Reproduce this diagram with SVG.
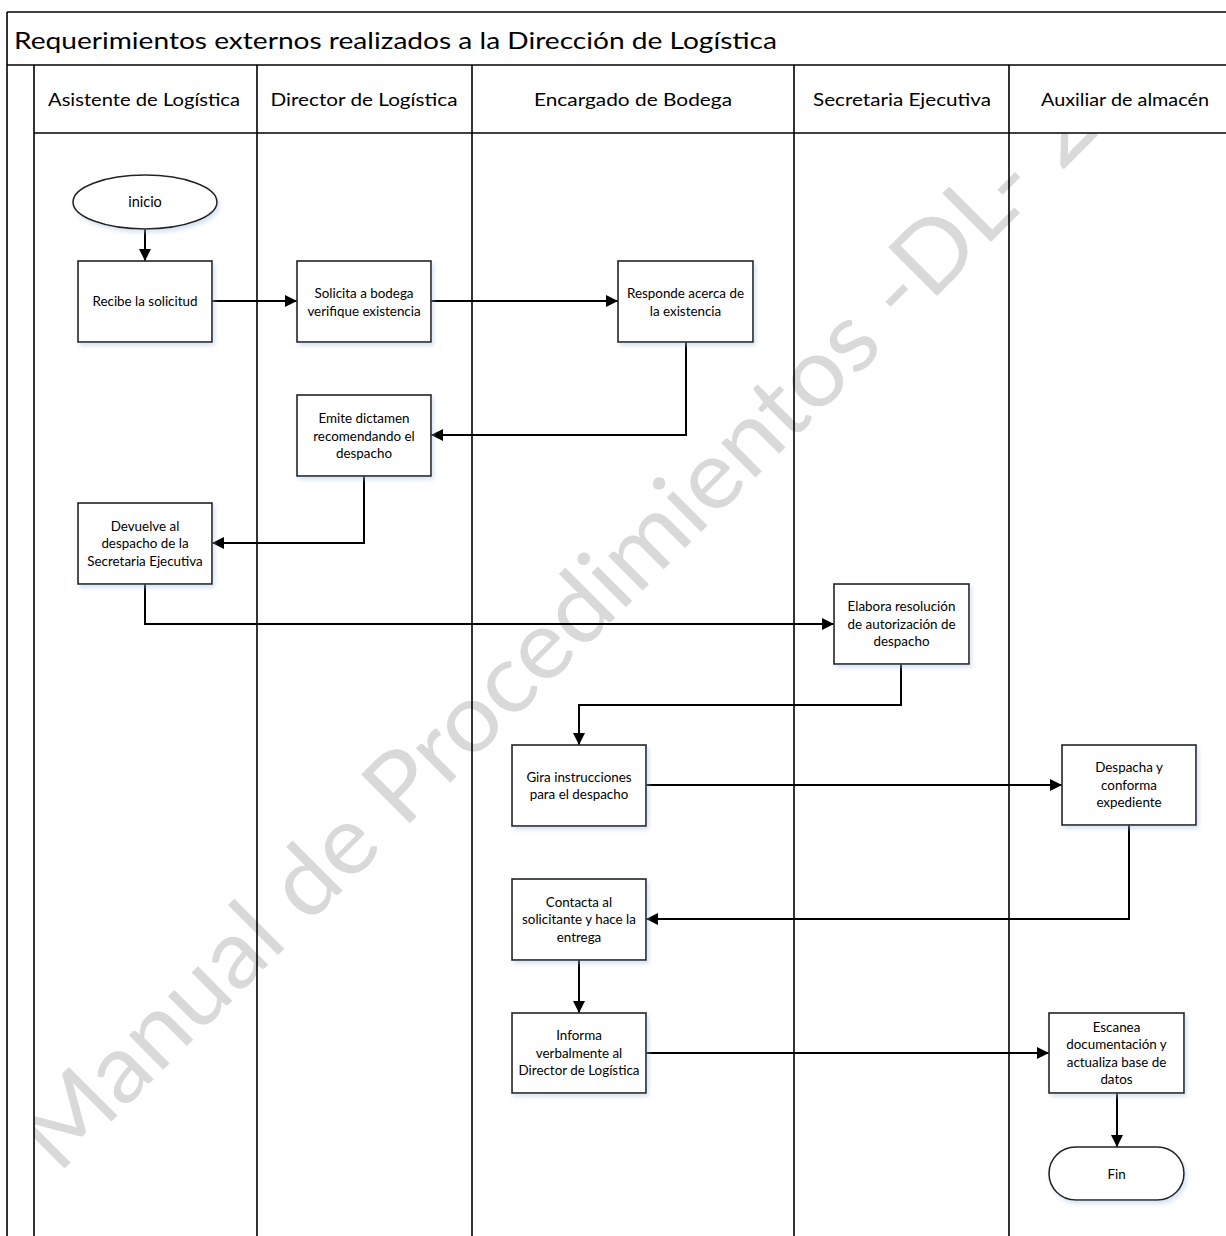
<svg xmlns="http://www.w3.org/2000/svg" width="1226" height="1236" viewBox="0 0 1226 1236">
  <style>
    .frame { fill: none; stroke: #000; stroke-width: 1.6; }
    .lane { fill: none; stroke: #000; stroke-width: 1.6; }
    .band { fill: #fff; stroke: none; }
    .box { fill: #fff; stroke: #222; stroke-width: 1.6; filter: url(#shade); }
    .edge { fill: none; stroke: #000; stroke-width: 2; marker-end: url(#arrow); }
    .title { font-family: Lato, "Liberation Sans", sans-serif; font-size: 23px; fill: #000; }
    .head { font-family: Lato, "Liberation Sans", sans-serif; font-size: 17px; fill: #000; text-anchor: middle; }
    .lbl { font-family: Lato, "Liberation Sans", sans-serif; font-size: 13.4px; fill: #000; text-anchor: middle; }
    .mark { font-family: Lato, "Open Sans", sans-serif; font-size: 96px; fill: #d9d9d9; }
  </style>
  <defs>
    <marker id="arrow" markerUnits="userSpaceOnUse" markerWidth="13" markerHeight="13" refX="12" refY="6" orient="auto">
      <path d="M0,0 L12,6 L0,12 z" fill="#000"/>
    </marker>
    <filter id="shade" x="-10%" y="-10%" width="130%" height="130%">
      <feDropShadow dx="2" dy="3" stdDeviation="2" flood-color="#a9c0dc" flood-opacity="0.45"/>
    </filter>
  </defs>

  <rect width="1226" height="1236" fill="#fff"/>

  <!-- background watermark -->
  <g id="watermark">
    <text class="mark" transform="translate(58,1175) rotate(-45)" textLength="1476" lengthAdjust="spacingAndGlyphs">Manual de Procedimientos -DL- 2</text>
  </g>

  <!-- pool frame, title and swimlanes -->
  <g id="pool">
    <!-- opaque title bar, lane headers and left pool strip -->
    <rect class="band" x="7" y="12" width="1219" height="121"/>
    <rect class="band" x="7" y="133" width="27" height="1103"/>
    <line class="frame" x1="7" y1="12" x2="1226" y2="12"/>
    <line class="frame" x1="7" y1="12" x2="7" y2="1236"/>
    <line class="frame" x1="7" y1="65" x2="1226" y2="65"/>
    <line class="lane" x1="34" y1="65" x2="34" y2="1236"/>
    <line class="lane" x1="34" y1="133" x2="1226" y2="133"/>
    <line class="lane" x1="257" y1="65" x2="257" y2="1236"/>
    <line class="lane" x1="472" y1="65" x2="472" y2="1236"/>
    <line class="lane" x1="794" y1="65" x2="794" y2="1236"/>
    <line class="lane" x1="1009" y1="65" x2="1009" y2="1236"/>
    <text class="title" x="14" y="49" textLength="763" lengthAdjust="spacingAndGlyphs">Requerimientos externos realizados a la Dirección de Logística</text>
    <text class="head" x="144" y="106" textLength="192" lengthAdjust="spacingAndGlyphs">Asistente de Logística</text>
    <text class="head" x="364" y="106" textLength="187" lengthAdjust="spacingAndGlyphs">Director de Logística</text>
    <text class="head" x="633" y="106" textLength="198" lengthAdjust="spacingAndGlyphs">Encargado de Bodega</text>
    <text class="head" x="902" y="106" textLength="178" lengthAdjust="spacingAndGlyphs">Secretaria Ejecutiva</text>
    <text class="head" x="1125" y="106" textLength="168" lengthAdjust="spacingAndGlyphs">Auxiliar de almacén</text>
  </g>

  <!-- connectors -->
  <g id="connectors">
    <path class="edge" d="M145,229 L145,261"/>
    <path class="edge" d="M212,301 L297,301"/>
    <path class="edge" d="M431,301 L618,301"/>
    <path class="edge" d="M686,342 L686,435 L431,435"/>
    <path class="edge" d="M364,476 L364,543 L212,543"/>
    <path class="edge" d="M145,584 L145,624 L834,624"/>
    <path class="edge" d="M901,664 L901,705 L579,705 L579,745"/>
    <path class="edge" d="M646,785 L1062,785"/>
    <path class="edge" d="M1129,825 L1129,919 L646,919"/>
    <path class="edge" d="M579,960 L579,1013"/>
    <path class="edge" d="M646,1053 L1049,1053"/>
    <path class="edge" d="M1117,1093 L1117,1147"/>
  </g>

  <!-- flow nodes -->
  <g id="inicio">
    <ellipse class="box" cx="145" cy="202" rx="72" ry="27"/>
    <text class="lbl" x="145" y="207" style="font-size:14.5px">inicio</text>
  </g>
  <g id="recibe">
    <rect class="box" x="78" y="261" width="134" height="81"/>
    <text class="lbl" x="145" y="306">Recibe la solicitud</text>
  </g>
  <g id="solicita">
    <rect class="box" x="297" y="261" width="134" height="81"/>
    <text class="lbl" x="364" y="298">Solicita a bodega</text>
    <text class="lbl" x="364" y="315.5">verifique existencia</text>
  </g>
  <g id="responde">
    <rect class="box" x="618" y="261" width="135" height="81"/>
    <text class="lbl" x="685.5" y="298">Responde acerca de</text>
    <text class="lbl" x="685.5" y="315.5">la existencia</text>
  </g>
  <g id="emite">
    <rect class="box" x="297" y="395" width="134" height="81"/>
    <text class="lbl" x="364" y="423">Emite dictamen</text>
    <text class="lbl" x="364" y="440.5">recomendando el</text>
    <text class="lbl" x="364" y="458">despacho</text>
  </g>
  <g id="devuelve">
    <rect class="box" x="78" y="503" width="134" height="81"/>
    <text class="lbl" x="145" y="530.5">Devuelve al</text>
    <text class="lbl" x="145" y="548">despacho de la</text>
    <text class="lbl" x="145" y="565.5">Secretaria Ejecutiva</text>
  </g>
  <g id="elabora">
    <rect class="box" x="834" y="584" width="135" height="80"/>
    <text class="lbl" x="901.5" y="611">Elabora resolución</text>
    <text class="lbl" x="901.5" y="628.5">de autorización de</text>
    <text class="lbl" x="901.5" y="646">despacho</text>
  </g>
  <g id="gira">
    <rect class="box" x="512" y="745" width="134" height="81"/>
    <text class="lbl" x="579" y="781.5">Gira instrucciones</text>
    <text class="lbl" x="579" y="799">para el despacho</text>
  </g>
  <g id="despacha">
    <rect class="box" x="1062" y="745" width="134" height="80"/>
    <text class="lbl" x="1129" y="772">Despacha y</text>
    <text class="lbl" x="1129" y="789.5">conforma</text>
    <text class="lbl" x="1129" y="807">expediente</text>
  </g>
  <g id="contacta">
    <rect class="box" x="512" y="879" width="134" height="81"/>
    <text class="lbl" x="579" y="906.5">Contacta al</text>
    <text class="lbl" x="579" y="924">solicitante y hace la</text>
    <text class="lbl" x="579" y="941.5">entrega</text>
  </g>
  <g id="informa">
    <rect class="box" x="512" y="1013" width="134" height="80"/>
    <text class="lbl" x="579" y="1040">Informa</text>
    <text class="lbl" x="579" y="1057.5">verbalmente al</text>
    <text class="lbl" x="579" y="1075">Director de Logística</text>
  </g>
  <g id="escanea">
    <rect class="box" x="1049" y="1013" width="135" height="80"/>
    <text class="lbl" x="1116.5" y="1031.5">Escanea</text>
    <text class="lbl" x="1116.5" y="1049">documentación y</text>
    <text class="lbl" x="1116.5" y="1066.5">actualiza base de</text>
    <text class="lbl" x="1116.5" y="1084">datos</text>
  </g>
  <g id="fin">
    <rect class="box" x="1049" y="1147" width="135" height="53" rx="26.5" ry="26.5"/>
    <text class="lbl" x="1116.5" y="1178.5">Fin</text>
  </g>
</svg>
